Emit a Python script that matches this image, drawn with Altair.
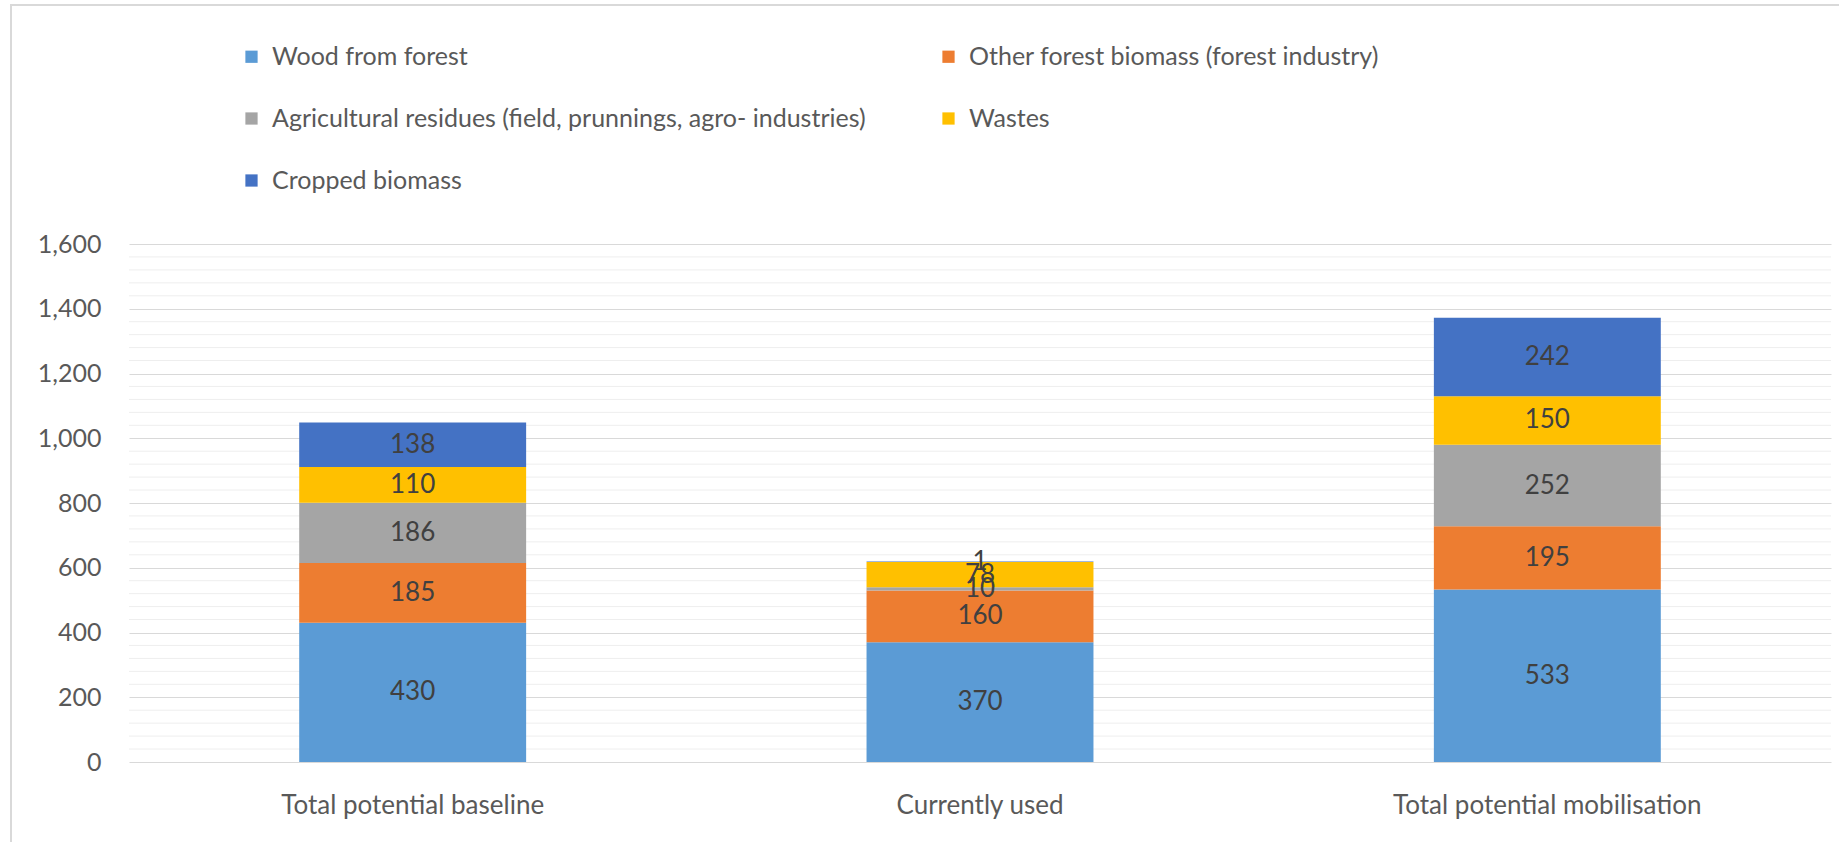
import altair as alt
import pandas as pd

categories = ["Total potential baseline", "Currently used", "Total potential mobilisation"]
series = [
    "Wood from forest",
    "Other forest biomass (forest industry)",
    "Agricultural residues (field, prunnings, agro- industries)",
    "Wastes",
    "Cropped biomass",
]
colors = ["#5B9BD5", "#ED7D31", "#A5A5A5", "#FFC000", "#4472C4"]

wood = [430, 370, 533]
other = [185, 160, 195]
agri = [186, 10, 252]
wastes = [110, 78, 150]
cropped = [138, 1, 242]

major_ticks = [0, 200, 400, 600, 800, 1000, 1200, 1400, 1600]
minor_ticks = [v for v in range(40, 1600, 40) if v % 200 != 0]

rows = []
for ci, cat in enumerate(categories):
    cum = 0
    for si, (name, vals) in enumerate(zip(series, [wood, other, agri, wastes, cropped])):
        v = vals[ci]
        rows.append({"category": cat, "series": name, "value": v, "order": si,
                     "mid": cum + v / 2})
        cum += v
df = pd.DataFrame(rows)

FONT = "Lato"
W, H = 1702, 518
L, T = 129, 244

x_enc = alt.X("category:N", sort=categories, title=None,
              scale=alt.Scale(paddingInner=0.6, paddingOuter=0.3),
              axis=alt.Axis(labelAngle=0, labelFont=FONT, labelFontSize=26,
                            labelColor="#595959", ticks=False, domain=False,
                            labelPadding=30, grid=False, labelLimit=0))

minor = alt.Chart(pd.DataFrame({"v": minor_ticks})).mark_rule(
    color="#eeeeee", strokeWidth=1).encode(
    y=alt.Y("v:Q", scale=alt.Scale(domain=[0, 1600], nice=False)))

bars = alt.Chart(df).mark_bar().encode(
    x=x_enc,
    y=alt.Y("value:Q", stack="zero", title=None,
            scale=alt.Scale(domain=[0, 1600], nice=False),
            axis=alt.Axis(values=major_ticks, format=",d", labelFont=FONT,
                          labelFontSize=25, labelColor="#595959", ticks=False,
                          domain=False, labelPadding=28, gridColor="#d9d9d9",
                          gridWidth=1)),
    color=alt.Color("series:N", scale=alt.Scale(domain=series, range=colors),
                    legend=alt.Legend(orient="none", legendX=110, legendY=-200,
                                      columns=2, direction="horizontal",
                                      title=None, symbolType="square",
                                      symbolSize=150, symbolStrokeWidth=0,
                                      symbolOpacity=1, labelFont=FONT,
                                      labelFontSize=25, labelColor="#595959",
                                      labelLimit=0, rowPadding=36,
                                      columnPadding=70, labelOffset=8)),
    order=alt.Order("order:Q"),
)

labels = alt.Chart(df).mark_text(font=FONT, fontSize=26, color="#404040").encode(
    x=alt.X("category:N", sort=categories),
    y=alt.Y("mid:Q"),
    text=alt.Text("value:Q"),
)

frame_data = pd.DataFrame({"a": [0]})
left_line = alt.Chart(frame_data).mark_rule(color="#d9d9d9", strokeWidth=2).encode(
    x=alt.value(11 - L), y=alt.value(4 - T), y2=alt.value(842 - T))
top_line = alt.Chart(frame_data).mark_rule(color="#d9d9d9", strokeWidth=2).encode(
    y=alt.value(5 - T), x=alt.value(10 - L), x2=alt.value(1839 - L))

chart = alt.layer(minor, bars, labels, left_line, top_line).properties(
    width=W, height=H,
    background="white",
    autosize=alt.AutoSizeParams(type="none"),
    padding={"left": L, "top": T, "right": 1839 - L - W, "bottom": 842 - T - H},
).configure_view(stroke="transparent", strokeWidth=0)

chart.save("out.html", embed_options={"renderer": "svg", "actions": False})
